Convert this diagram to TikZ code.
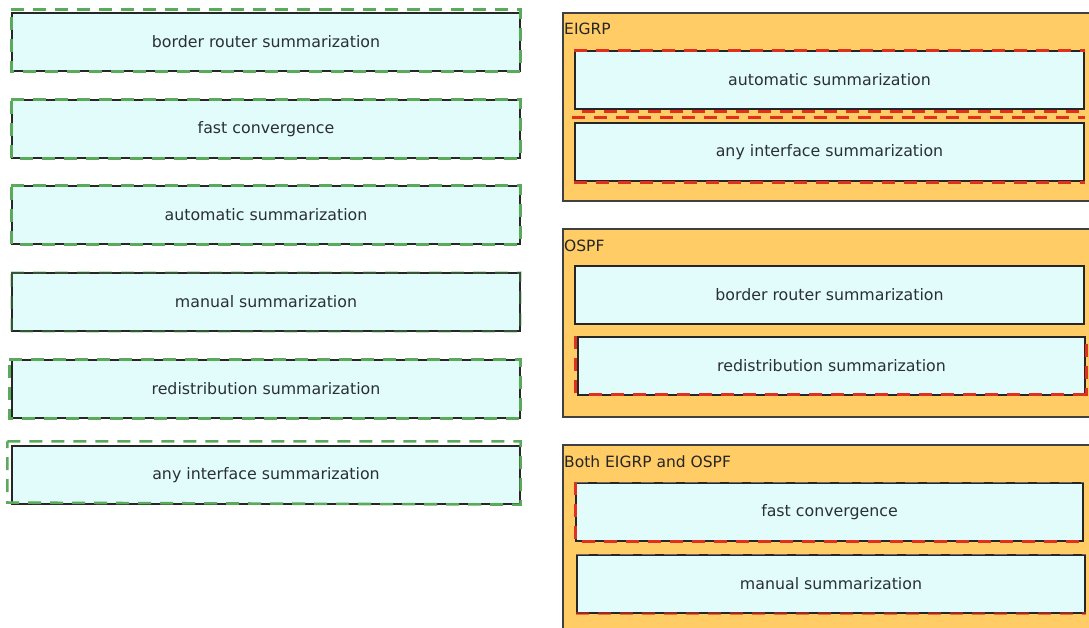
\documentclass[tikz,border=0pt]{standalone}
\usepackage{fontspec}
\setmainfont{DejaVu Sans}
\newcommand{\lowtext}[1]{\raisebox{-2.5pt}{#1}}
\begin{document}
\begin{tikzpicture}[x=1pt,y=-1pt,
  item/.style={draw=black!85, line width=1.2pt, fill=cyanfill, minimum width=508pt, minimum height=58pt, inner sep=0pt, font=\fontsize{15.8}{19}\selectfont, text=textgray},
  panel/.style={draw=black!75, line width=1.2pt, fill=panelorange},
  gdash/.style={draw=dashgreen, line width=2.6pt, dash pattern=on 13pt off 9pt},
  rdash/.style={draw=dashred, line width=2.6pt, dash pattern=on 13pt off 9pt},
  ptitle/.style={anchor=west, inner sep=0pt, font=\fontsize{15.5}{18}\selectfont, text=black!85}]
\definecolor{cyanfill}{HTML}{E2FCFC}
\definecolor{panelorange}{HTML}{FFCC66}
\definecolor{dashgreen}{HTML}{5BAA5B}
\definecolor{dashred}{HTML}{E0301E}
\definecolor{textgray}{HTML}{2A3034}
\useasboundingbox (0,0) rectangle (1089,628);
\fill[white] (0,0) rectangle (1089,628);
\begin{scope}
\clip (0,0) rectangle (1089,628);
% left column
\node[item] (l1) at (266,42) {\lowtext{border router summarization}};
\node[item] (l2) at (266,129) {\lowtext{fast convergence}};
\node[item] (l3) at (266,215) {\lowtext{automatic summarization}};
\node[item] (l4) at (266,302) {\lowtext{manual summarization}};
\node[item] (l5) at (266,389) {\lowtext{redistribution summarization}};
\node[item] (l6) at (266,475) {\lowtext{any interface summarization}};
\draw[gdash] ([shift={(0,-3)}]l1.north west) -- ([shift={(0,-3)}]l1.north east) -- (l1.south east) -- (l1.south west) -- cycle;
\draw[gdash] (l2.north west) -- (l2.north east) -- (l2.south east) -- (l2.south west) -- cycle;
\draw[gdash] (l3.north west) -- (l3.north east) -- (l3.south east) -- (l3.south west) -- cycle;
\draw[gdash, draw opacity=0.35] (l4.north west) -- (l4.north east) -- (l4.south east) -- (l4.south west) -- cycle;
\draw[gdash] ([shift={(-2,0)}]l5.north west) -- (l5.north east) -- (l5.south east) -- ([shift={(-2,0)}]l5.south west) -- cycle;
\draw[gdash] ([shift={(-4,-4)}]l6.north west) -- ([shift={(0,-4)}]l6.north east) -- (l6.south east) -- ([shift={(-4,-2)}]l6.south west) -- cycle;
% panels
\draw[panel] (563,13) rectangle (1100,201);
\draw[panel] (563,229) rectangle (1100,417);
\draw[panel] (563,445) rectangle (1100,640);
\node[ptitle] (t1) at (564,29) {EIGRP};
\node[ptitle] (t2) at (564,246) {OSPF};
\node[ptitle] (t3) at (564,462) {Both EIGRP and OSPF};
\node[item, minimum width=509pt] (e1) at (829.5,80) {\lowtext{automatic summarization}};
\node[item, minimum width=509pt] (e2) at (829.5,152) {\lowtext{any interface summarization}};
\node[item, minimum width=509pt] (o1) at (829.5,295) {\lowtext{border router summarization}};
\node[item, minimum width=507pt] (o2) at (831.5,366) {\lowtext{redistribution summarization}};
\node[item, minimum width=507pt] (b1) at (829.5,512) {\lowtext{fast convergence}};
\node[item, minimum width=508pt] (b2) at (831,584) {\lowtext{manual summarization}};
\draw[rdash] (e1.north west) -- (e1.north east);
\draw[rdash] ([shift={(8,2)}]e1.south west) -- ([shift={(0,2)}]e1.south east);
\draw[rdash] ([shift={(-2,-5)}]e2.north west) -- ([shift={(0,-5)}]e2.north east);
\draw[rdash] ([shift={(0,1)}]e2.south west) -- ([shift={(0,1)}]e2.south east);
\draw[rdash] ([shift={(12,-1)}]o2.south west) -- ([shift={(0,-1)}]o2.south east);
\draw[rdash] ([shift={(-2,0)}]o2.north west) -- ([shift={(-2,0)}]o2.south west);
\draw[rdash] ([shift={(1,8)}]o2.north east) -- ([shift={(1,0)}]o2.south east);
\draw[rdash] (b1.north west) -- (b1.south west) -- (b1.south east);
\draw[rdash, draw opacity=0.6] (b2.south west) -- (b2.south east);
\draw[gdash, draw=black!60, line width=1.8pt] (b1.north west) -- (b1.north east);
\draw[gdash, draw=black!60, line width=1.8pt] (b2.north west) -- (b2.north east);
\end{scope}
\end{tikzpicture}
\end{document}
